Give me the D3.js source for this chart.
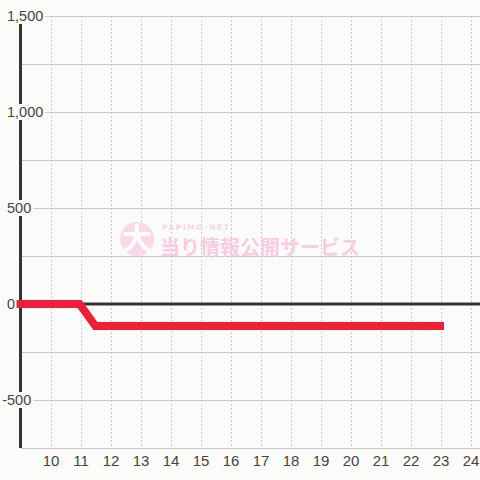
<!DOCTYPE html>
<html>
<head>
<meta charset="utf-8">
<script src="https://cdn.jsdelivr.net/npm/d3@7"></script>
<style>
  html, body { margin: 0; padding: 0; background: #fbfcfa; }
  svg { display: block; }
</style>
</head>
<body>
<div id="chart"></div>
<script>
// hours of day and slot balance (difference in medals)
var times = [8.85, 10.95, 11.48, 23.1];
var values = [0, 0, -115, -115];
var xTicks = [10, 11, 12, 13, 14, 15, 16, 17, 18, 19, 20, 21, 22, 23, 24];
var yGrid = [-500, -250, 250, 500, 750, 1000, 1250, 1500];
var yLabels = [1500, 1000, 500, 0, -500];

var width = 480, height = 480;
var bg = "#fbfcfa";

var svg = d3.select("#chart").append("svg")
  .attr("width", width)
  .attr("height", height);

svg.append("rect").attr("width", width).attr("height", height).attr("fill", bg);

var x = d3.scaleLinear().domain([9, 24.3]).range([21, 480]);
var y = d3.scaleLinear().domain([-750, 1500]).range([448, 16]);

// vertical dashed grid
svg.append("g").selectAll("line")
  .data(xTicks)
  .enter().append("line")
    .attr("x1", function(d){ return x(d) + 0.5; })
    .attr("x2", function(d){ return x(d) + 0.5; })
    .attr("y1", y(1500))
    .attr("y2", y(-750))
    .style("stroke", "#cccccc")
    .style("stroke-dasharray", "2,2")
    .style("stroke-width", 1);

// horizontal grid
svg.append("g").selectAll("line")
  .data(yGrid)
  .enter().append("line")
    .attr("x1", x(9))
    .attr("x2", width)
    .attr("y1", function(d){ return y(d) + 0.5; })
    .attr("y2", function(d){ return y(d) + 0.5; })
    .style("stroke", "#c8c8c8")
    .style("stroke-width", 1);

// bottom axis line
svg.append("line")
  .attr("x1", x(9)).attr("x2", width)
  .attr("y1", y(-750) + 0.5).attr("y2", y(-750) + 0.5)
  .style("stroke", "#c8c8c8").style("stroke-width", 1);

// zero line
svg.append("line")
  .attr("x1", x(9)).attr("x2", width)
  .attr("y1", y(0)).attr("y2", y(0))
  .style("stroke", "#333333").style("stroke-width", 3);

// y axis line
svg.append("line")
  .attr("x1", 20.5).attr("x2", 20.5)
  .attr("y1", y(1500)).attr("y2", y(-750))
  .style("stroke", "#333333").style("stroke-width", 3);

// watermark
var wm = svg.append("g").attr("opacity", 0.95);
wm.append("circle")
  .attr("cx", 137).attr("cy", 239).attr("r", 17)
  .attr("fill", "#fcd6e8");
wm.append("text")
  .attr("x", 137).attr("y", 249)
  .attr("text-anchor", "middle")
  .style("font-family", "'Noto Sans CJK JP'")
  .style("font-weight", "bold")
  .style("font-size", "30px")
  .style("fill", "#ffffff")
  .text("大");
wm.append("text")
  .attr("x", 162).attr("y", 230)
  .style("font-family", "'DejaVu Sans'")
  .style("font-weight", "bold")
  .style("font-size", "7.5px")
  .style("letter-spacing", "1.6px")
  .style("fill", "#fbd0e4")
  .text("PAPIMO-NET");
wm.append("text")
  .attr("x", 160).attr("y", 255)
  .style("font-family", "'Noto Sans CJK JP'")
  .style("font-weight", "bold")
  .style("font-size", "20px")
  .style("fill", "#fbc9e0")
  .text("当り情報公開サービス");

// y labels with background
var yl = svg.append("g").selectAll("g")
  .data(yLabels)
  .enter().append("g");
yl.each(function(d){
  var g = d3.select(this);
  var bgRect = g.append("rect").attr("fill", bg);
  var t = g.append("text")
    .attr("x", 7)
    .attr("y", y(d))
    .attr("dy", "0.36em")
    .style("font-family", "'Liberation Sans', Arial, sans-serif")
    .style("font-size", "14.5px")
    .style("fill", "#444444")
    .text(d3.format(",")(Math.abs(d)));
  var b = t.node().getBBox();
  var left = b.x;
  if (d < 0) {
    var m = g.append("text")
      .attr("x", 7)
      .attr("y", y(d))
      .attr("dy", "0.36em")
      .attr("text-anchor", "end")
      .style("font-family", "'Liberation Sans', Arial, sans-serif")
      .style("font-size", "14.5px")
      .style("fill", "#444444")
      .text("-");
    left = m.node().getBBox().x;
  }
  bgRect.attr("x", left).attr("y", y(d) - 8)
    .attr("width", b.x + b.width + 2 - left)
    .attr("height", 16);
});

// x labels
svg.append("g").selectAll("text")
  .data(xTicks)
  .enter().append("text")
    .attr("x", function(d){ return x(d); })
    .attr("y", 466)
    .attr("text-anchor", "middle")
    .style("font-family", "'Liberation Sans', Arial, sans-serif")
    .style("font-size", "15px")
    .style("fill", "#444444")
    .text(function(d){ return d; });

// balance line
var line = d3.line()
  .x(function(d, i){ return x(times[i]); })
  .y(function(d){ return y(d); });

svg.append("path")
  .datum(values)
  .attr("d", line)
  .attr("fill", "none")
  .style("stroke", "#ee2035")
  .style("stroke-width", 8)
  .style("stroke-linejoin", "miter");
</script>
</body>
</html>
